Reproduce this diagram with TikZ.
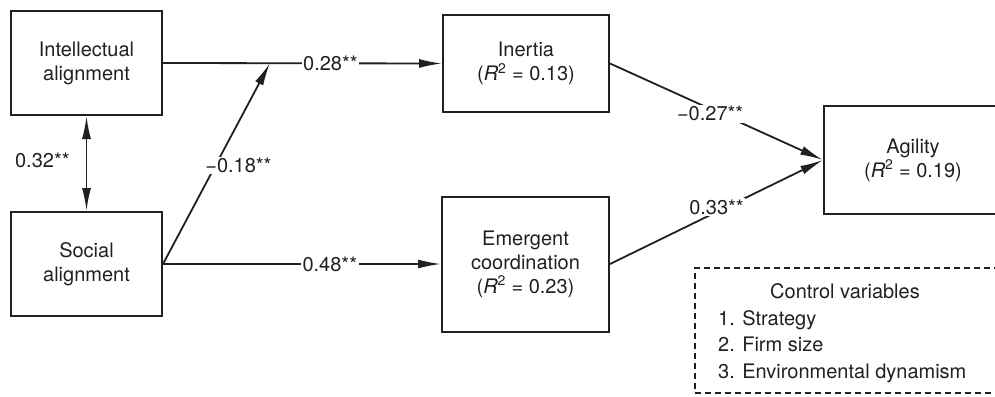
\documentclass[tikz,border=0pt]{standalone}
\usepackage{fontspec}
\setmainfont{TeX Gyre Heros}
\usetikzlibrary{arrows.meta}
\definecolor{ink}{HTML}{231F20}
\begin{document}
\begin{tikzpicture}[x=1pt,y=-1pt,
  every node/.style={font=\fontsize{20}{24}\selectfont, text=ink},
  box/.style={draw=ink, line width=2pt, rectangle, align=center, inner sep=0pt},
  ctrlbox/.style={draw=ink, line width=1.5pt, dash pattern=on 6pt off 4pt, rectangle},
  conn/.style={draw=ink, line width=1.8pt},
  arr/.style={conn, -{Latex[length=23pt,width=9pt]}},
  biarr/.style={conn, {Latex[length=23pt,width=9pt]}-{Latex[length=23pt,width=9pt]}},
  elab/.style={fill=white, inner sep=1.5pt},
  plain/.style={inner sep=0pt}
]
\useasboundingbox (0,0) rectangle (995,396);
\clip (0,0) rectangle (995,396);

\node[box, minimum width=151pt, minimum height=104pt] (ia) at (86.5,63) {Intellectual\\alignment};
\node[box, minimum width=151pt, minimum height=104pt] (sa) at (86.5,264) {Social\\alignment};
\node[box, minimum width=166pt, minimum height=97pt] (in) at (526,63.5) {Inertia\\(\textit{R}\textsuperscript{2} = 0.13)};
\node[box, minimum width=167pt, minimum height=135pt] (ec) at (525.5,264) {Emergent\\coordination\\(\textit{R}\textsuperscript{2} = 0.23)};
\node[box, minimum width=178pt, minimum height=108pt] (ag) at (913,160) {Agility\\(\textit{R}\textsuperscript{2} = 0.19)};

\coordinate (m) at (270,63);

\draw[biarr] (ia.south) -- node[plain, anchor=east, pos=0.47, xshift=-16pt] (l32) {0.32**} (sa.north);
\draw[arr] (ia.east) -- node[elab, pos=0.6] (l28) {0.28**} (in.west);
\draw[arr] (sa.east) -- node[elab, pos=0.49, xshift=23pt] (l18) {−0.18**} (m);
\draw[arr] (sa.east) -- node[elab, pos=0.6] (l48) {0.48**} (ec.west);
\draw[arr] (in.east) -- node[elab, pos=0.47, yshift=-5pt] (l27) {−0.27**} (ag.west);
\draw[arr] (ec.east) -- node[elab, pos=0.5, yshift=5pt] (l33) {0.33**} (ag.west);

\node[ctrlbox, minimum width=310pt, minimum height=125pt] (ct) at (850,330.5) {};
\node[plain, anchor=base] (ctt) at (845,298) {Control variables};
\node[plain, anchor=base west] (c1) at (718,325) {1. Strategy};
\node[plain, anchor=base west] (c2) at (718,351.5) {2. Firm size};
\node[plain, anchor=base west] (c3) at (718,378) {3. Environmental dynamism};
\end{tikzpicture}
\end{document}
